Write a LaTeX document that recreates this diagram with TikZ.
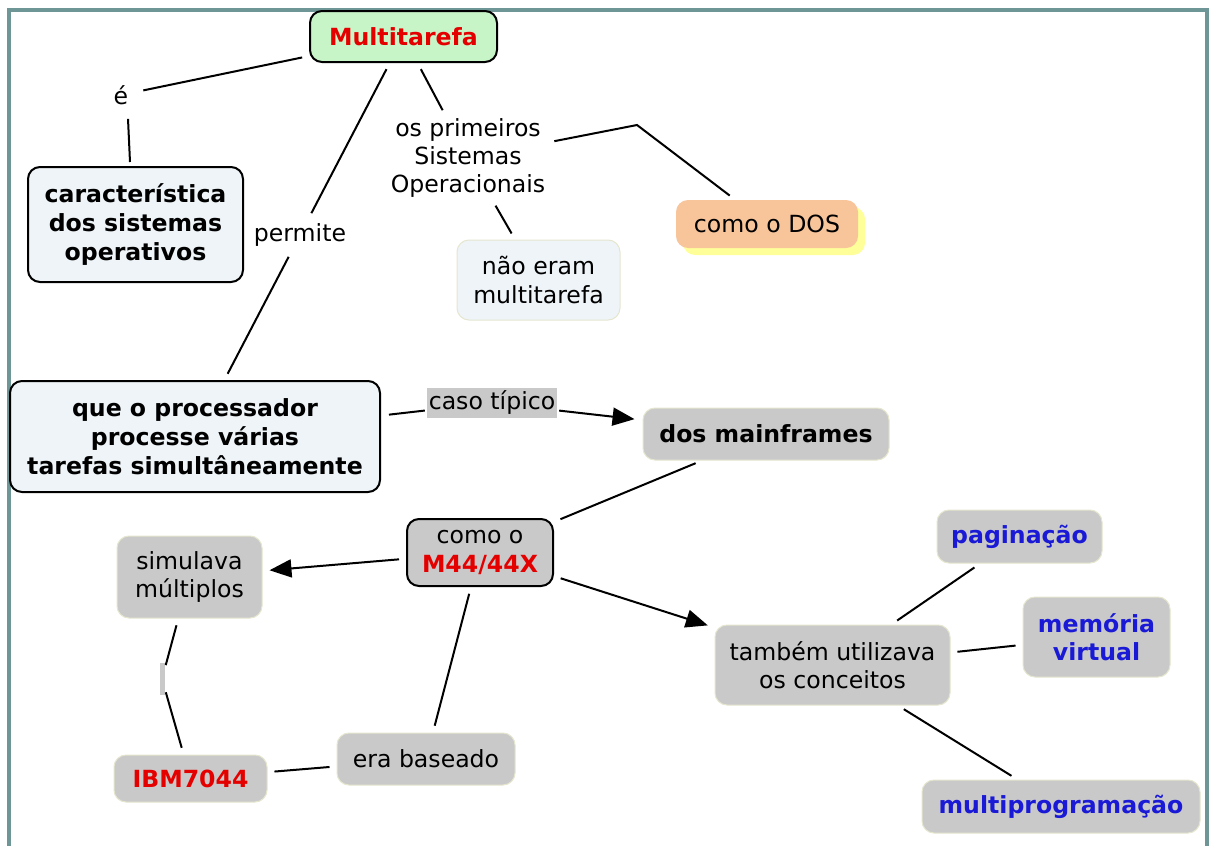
\documentclass[tikz,border=0pt]{standalone}
\usepackage{fontspec}
\setmainfont{DejaVu Sans}
\usetikzlibrary{arrows.meta,shadows}

\definecolor{cgreen}{HTML}{C8F5C8}
\definecolor{cpale}{HTML}{EEF4F8}
\definecolor{cgray}{HTML}{C9C9C9}
\definecolor{cedge}{HTML}{E6E6CF}
\definecolor{corange}{HTML}{F8C49A}
\definecolor{cyellow}{HTML}{FFFF99}
\definecolor{cred}{HTML}{E50000}
\definecolor{cblue}{HTML}{1A1AD6}
\definecolor{cframe}{HTML}{6F9696}

\tikzset{
  concept/.style={rounded corners=12pt, align=center, inner sep=0pt,
    font=\fontsize{23.6}{28.5}\selectfont},
  darkbox/.style={concept, draw=black, line width=2pt},
  graybox/.style={concept, fill=cgray, draw=cedge, line width=1pt},
  palebox/.style={concept, fill=cpale, draw=cedge, line width=1pt},
  phrase/.style={align=center, inner sep=4pt,
    font=\fontsize{23.6}{28}\selectfont},
  link/.style={line width=2pt, shorten >=7pt, shorten <=7pt},
  arrowlink/.style={link, -{Triangle[length=22pt,width=18pt]}},
  boldfont/.style={font=\fontsize{23.6}{29}\selectfont\bfseries},
  boldred/.style={boldfont, text=cred},
  boldblue/.style={font=\fontsize{23.6}{28.5}\selectfont\bfseries, text=cblue},
}

\begin{document}
\begin{tikzpicture}[x=1pt, y=-1pt]
\useasboundingbox (0,0) rectangle (1211,846);
\fill[white] (0,0) rectangle (1211,846);

% outer frame of the map
\draw[line width=4pt, cframe] (9,10) rectangle (1207,880);

% concepts
\node[darkbox, fill=cgreen, boldred, minimum width=187pt, minimum height=51pt]
  (multi) at (403.5,36.5) {Multitarefa};
\node[darkbox, fill=cpale, boldfont, minimum width=215pt, minimum height=115pt]
  (carac) at (135.5,224.5) {característica\\dos sistemas\\operativos};
\node[palebox, minimum width=163pt, minimum height=80pt]
  (naoeram) at (538.5,280) {não eram\\multitarefa};
\node[concept, fill=corange, minimum width=182pt, minimum height=48pt,
  general shadow={fill=cyellow, shadow xshift=7pt, shadow yshift=-7pt}]
  (dos) at (767,224) {como o DOS};
\node[darkbox, fill=cpale, boldfont, minimum width=370pt, minimum height=111pt]
  (proc) at (195,436.5) {que o processador\\processe várias\\tarefas simultâneamente};
\node[graybox, boldfont, minimum width=246pt, minimum height=52pt]
  (mainframes) at (766,434) {dos mainframes};
\node[darkbox, fill=cgray, minimum width=146pt, minimum height=67pt]
  (m44) at (480,552.5) {como o\\\textcolor{cred}{\bfseries M44/44X}};
\node[graybox, minimum width=145pt, minimum height=82pt]
  (simul) at (189.5,577) {simulava\\múltiplos};
\node[graybox, boldred, minimum width=153pt, minimum height=47pt]
  (ibm) at (190.5,778.5) {IBM7044};
\node[graybox, minimum width=178pt, minimum height=52pt]
  (era) at (426,759) {era baseado};
\node[graybox, minimum width=235pt, minimum height=80pt]
  (tambem) at (832.5,665) {também utilizava\\os conceitos};
\node[graybox, boldblue, minimum width=165pt, minimum height=53pt]
  (pag) at (1019.5,536.5) {paginação};
\node[graybox, boldblue, minimum width=147pt, minimum height=80pt]
  (mem) at (1096.5,637) {memória\\virtual};
\node[graybox, boldblue, minimum width=278pt, minimum height=53pt]
  (mprog) at (1061,806.5) {multiprogramação};

% linking phrases
\node[phrase, inner sep=8pt] (e) at (121,95) {é};
\node[phrase] (permite) at (300,235) {permite};
\node[phrase, inner sep=2pt] (prim) at (468,158) {os primeiros\\Sistemas\\Operacionais};
\node[phrase, fill=cgray, inner sep=0pt, minimum width=130pt, minimum height=30pt]
  (caso) at (492,403) {caso típico};
\node[fill=cgray, inner sep=0pt, minimum width=5pt, minimum height=32pt]
  (bar) at (162,679) {};
\coordinate (bend) at (637,125);
\coordinate (etail) at ([xshift=7pt,yshift=-6pt]e.south);
\coordinate (ctop) at (etail |- carac.north);

% connectors
\draw[link] (multi) -- (e);
\draw[line width=2pt] (etail) -- ([xshift=2pt,yshift=4pt]ctop);
\draw[link] (multi) -- (permite);
\draw[link] (permite) -- (proc);
\draw[link] (multi) -- (prim);
\draw[link] (prim) -- (naoeram);
\draw[line width=2pt, shorten <=7pt, shorten >=7pt] (prim) -- (bend) -- (dos);
\draw[line width=2pt, shorten <=8pt, shorten >=2pt] (proc) -- (caso);
\draw[arrowlink, shorten <=2pt, shorten >=8pt] (caso) -- (mainframes);
\draw[link] (mainframes) -- (m44);
\draw[arrowlink] (m44) -- (simul);
\draw[link, shorten >=4pt] (simul) -- (bar);
\draw[link, shorten <=4pt] (bar) -- (ibm);
\draw[link] (m44) -- (era);
\draw[link] (era) -- (ibm);
\draw[arrowlink] (m44) -- (tambem);
\draw[link] (tambem) -- (pag);
\draw[link] (tambem) -- (mem);
\draw[link] (tambem) -- (mprog);
\end{tikzpicture}
\end{document}
